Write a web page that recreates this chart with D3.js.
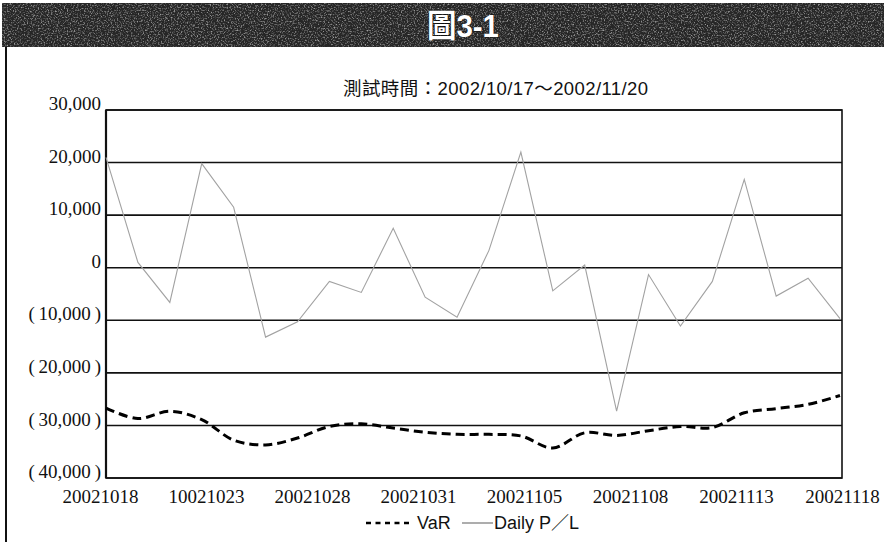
<!DOCTYPE html>
<html>
<head>
<meta charset="utf-8">
<script src="https://cdn.jsdelivr.net/npm/d3@7"></script>
<style>
  html, body { margin: 0; padding: 0; background: #fff; }
  svg { display: block; }
</style>
</head>
<body>
<svg id="chart" width="884" height="542"></svg>
<script>
// Daily P/L and VaR, one value per trading session
const dailyPL = [21000, 1000, -6600, 19800, 11500, -13200, -10300, -2600, -4700, 7500,
                 -5600, -9400, 3300, 22000, -4400, 500, -27300, -1300, -11100, -2600,
                 16800, -5400, -2000, -9700];
const varValues = [-26700, -28700, -27300, -28900, -32800, -33700, -32400, -30200, -29700, -30500,
                   -31300, -31700, -31700, -32000, -34300, -31400, -31900, -31000, -30200, -30400,
                   -27600, -26800, -26000, -24300];
const xTickLabels = ["20021018", "10021023", "20021028", "20021031",
                     "20021105", "20021108", "20021113", "20021118"];
const yTicks = [30000, 20000, 10000, 0, -10000, -20000, -30000, -40000];
const figureTitle = "圖3-1";
const subtitle = "測試時間：2002/10/17～2002/11/20";
const legendLabels = ["VaR", "Daily P／L"];

const svg = d3.select("#chart");
const W = 884, H = 542;
const plot = { left: 106, right: 842, top: 110, bottom: 478 };

// grainy texture for the heading band
const defs = svg.append("defs");
const grain = defs.append("filter").attr("id", "grain")
  .attr("x", 0).attr("y", 0).attr("width", 1).attr("height", 1);
grain.append("feTurbulence").attr("type", "fractalNoise")
  .attr("baseFrequency", 0.7).attr("numOctaves", 2).attr("seed", 7).attr("result", "noise");
grain.append("feColorMatrix").attr("in", "noise").attr("type", "matrix")
  .attr("values", "0 0 0 0 1  0 0 0 0 1  0 0 0 0 1  3.0 0 0 0 -1.45").attr("result", "speck");
grain.append("feComposite").attr("in", "speck").attr("in2", "SourceGraphic").attr("operator", "in");

// heading band
svg.append("rect").attr("x", 2).attr("y", 3).attr("width", W - 2).attr("height", 44)
  .attr("fill", "#262626");
svg.append("rect").attr("x", 2).attr("y", 3).attr("width", W - 2).attr("height", 44)
  .attr("fill", "#d0d0d0").attr("filter", "url(#grain)").attr("opacity", 0.55);

const titleG = svg.append("g").attr("transform", "translate(463,37)");
titleG.append("text")
  .attr("text-anchor", "middle")
  .attr("transform", "scale(0.92,1)")
  .attr("font-family", "'Liberation Sans', 'Noto Sans CJK TC', sans-serif")
  .attr("font-weight", "bold").attr("font-size", 32)
  .attr("fill", "#fff").attr("stroke", "#000").attr("stroke-width", 0.6)
  .attr("paint-order", "stroke")
  .text(figureTitle);

// frame line on the left
svg.append("line").attr("x1", 6).attr("x2", 6).attr("y1", 47).attr("y2", H)
  .attr("stroke", "#111").attr("stroke-width", 2);

// subtitle
svg.append("text")
  .attr("x", 343).attr("y", 95)
  .attr("textLength", 305).attr("lengthAdjust", "spacing")
  .attr("font-family", "'Liberation Sans', 'Noto Sans CJK TC', sans-serif")
  .attr("font-size", 18.5).attr("fill", "#111")
  .text(subtitle);

// scales
const x = d3.scalePoint().domain(d3.range(dailyPL.length)).range([plot.left, plot.right - 2]);
const xLab = d3.scalePoint().domain(xTickLabels).range([100, 842]);
const y = d3.scaleLinear().domain([-40000, 30000]).range([plot.bottom, plot.top]);

// horizontal gridlines
svg.append("g").selectAll("line").data(yTicks).join("line")
  .attr("x1", plot.left).attr("x2", plot.right)
  .attr("y1", d => y(d)).attr("y2", d => y(d))
  .attr("stroke", "#111").attr("stroke-width", 1.6);

// plot border
svg.append("rect")
  .attr("x", plot.left).attr("y", plot.top)
  .attr("width", plot.right - plot.left).attr("height", plot.bottom - plot.top)
  .attr("fill", "none").attr("stroke", "#111").attr("stroke-width", 1.6);
svg.append("line").attr("x1", plot.left).attr("x2", plot.left)
  .attr("y1", plot.top).attr("y2", plot.bottom)
  .attr("stroke", "#111").attr("stroke-width", 2.2);

// y axis labels
const num = d3.format(",");
const yAxis = d3.axisLeft(y).tickValues(yTicks).tickSize(0).tickPadding(5)
  .tickFormat(d => d < 0 ? "(\u2009" + num(-d) + "\u2009)" : num(d));
const yg = svg.append("g").attr("transform", `translate(${plot.left},0)`).call(yAxis);
yg.select(".domain").remove();
yg.selectAll("text")
  .attr("font-family", "'Liberation Serif', 'Times New Roman', serif")
  .attr("font-size", 19).attr("fill", "#111")
  .attr("dy", "-0.02em");

// x axis labels
const xAxis = d3.axisBottom(xLab).tickSize(0).tickPadding(12);
const xg = svg.append("g").attr("transform", `translate(0,${plot.bottom})`).call(xAxis);
xg.select(".domain").remove();
xg.selectAll("text")
  .attr("font-family", "'Liberation Serif', 'Times New Roman', serif")
  .attr("font-size", 19).attr("fill", "#111");

// Daily P/L line
const plLine = d3.line().x((d, i) => x(i)).y(d => y(d));
svg.append("path").datum(dailyPL)
  .attr("d", plLine)
  .attr("fill", "none").attr("stroke", "#a2a2a2").attr("stroke-width", 1.1)
  .attr("stroke-linejoin", "miter");

// VaR line (smoothed, dashed)
const varLine = d3.line().x((d, i) => x(i)).y(d => y(d)).curve(d3.curveCatmullRom.alpha(0.5));
svg.append("path").datum(varValues)
  .attr("d", varLine)
  .attr("fill", "none").attr("stroke", "#000").attr("stroke-width", 3)
  .attr("stroke-dasharray", "9,5");

// legend
const lg = svg.append("g").attr("transform", "translate(0,523)");
lg.append("line").attr("x1", 366).attr("x2", 412).attr("y1", 0).attr("y2", 0)
  .attr("stroke", "#000").attr("stroke-width", 2.4).attr("stroke-dasharray", "5,4.5");
lg.append("text").attr("x", 417).attr("y", 6)
  .attr("font-family", "'Liberation Sans', sans-serif").attr("font-size", 18).attr("fill", "#111")
  .text(legendLabels[0]);
lg.append("line").attr("x1", 462).attr("x2", 493).attr("y1", 0).attr("y2", 0)
  .attr("stroke", "#777").attr("stroke-width", 1.2);
lg.append("text").attr("x", 494).attr("y", 6)
  .attr("font-family", "'Liberation Sans', 'Noto Sans CJK TC', sans-serif").attr("font-size", 18).attr("fill", "#111")
  .text(legendLabels[1]);
</script>
</body>
</html>
